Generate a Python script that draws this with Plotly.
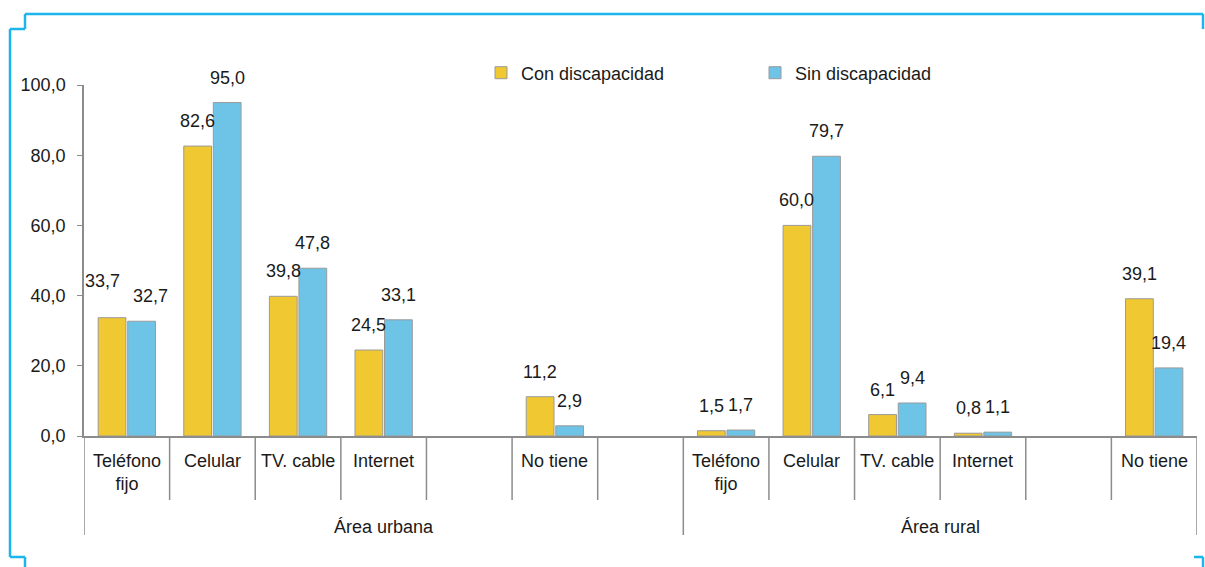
import plotly.graph_objects as go

# categories per area (empty slots are spacer columns in the original chart)
areas = ["Área urbana", "Área rural"]
cat_urbana = ["Teléfono<br>fijo", "Celular", "TV. cable", "Internet", "", "No tiene", ""]
cat_rural = ["Teléfono<br>fijo", "Celular", "TV. cable", "Internet", "", "No tiene"]

# porcentajes
con_urbana = [33.7, 82.6, 39.8, 24.5, None, 11.2, None]
sin_urbana = [32.7, 95.0, 47.8, 33.1, None, 2.9, None]
con_rural = [1.5, 60.0, 6.1, 0.8, None, 39.1]
sin_rural = [1.7, 79.7, 9.4, 1.1, None, 19.4]

series_names = ["Con discapacidad", "Sin discapacidad"]
y_ticks = [0, 20, 40, 60, 80, 100]

W, H = 1205, 567
FONT = "Liberation Sans, Arial, sans-serif"
FS = 18
YELLOW = "#F0C832"
BLUE = "#6EC4E6"
AXIS = "#8c8c8c"
CYAN = "#1CB5EC"
BARGAP = 0.31


def px(x):
    return x / W


def py(y):
    return 1 - y / H


cats = cat_urbana + cat_rural
con = con_urbana + con_rural
sin = sin_urbana + sin_rural
xs = list(range(len(cats)))

fig = go.Figure()
fig.add_trace(go.Bar(x=xs, y=con, name=series_names[0], marker_color=YELLOW,
                     marker_line=dict(color="#9a9a9a", width=1)))
fig.add_trace(go.Bar(x=xs, y=sin, name=series_names[1], marker_color=BLUE,
                     marker_line=dict(color="#9a9a9a", width=1)))

annotations = []
# data labels above each bar; a couple were nudged apart in the original
off = (1 - BARGAP) / 4
nudge = {(0, 0): (-10, 12), (1, 0): (9, 0)}
for s, vals in enumerate([con, sin]):
    for i, v in enumerate(vals):
        if v is None:
            continue
        dx, dy = nudge.get((s, i), (0, 0))
        annotations.append(dict(
            x=i + (off if s else -off), y=v, xref="x", yref="y",
            text=f"{v:.1f}".replace(".", ","), showarrow=False,
            yanchor="bottom", yshift=13 + dy, xshift=dx,
            font=dict(size=FS, color="#1a1a1a")))

# category labels
for i, c in enumerate(cats):
    if c:
        annotations.append(dict(x=i, y=py(449), xref="x", yref="paper", text=c,
                                showarrow=False, yanchor="top",
                                font=dict(size=FS, color="#1a1a1a")))

# area labels
n_urb = len(cat_urbana)
edges = [-0.5, n_urb - 0.5, len(cats) - 0.5]
for a, name in enumerate(areas):
    annotations.append(dict(x=(edges[a] + edges[a + 1]) / 2, y=py(527), xref="x", yref="paper",
                            text=name, showarrow=False, yanchor="middle",
                            font=dict(size=FS, color="#1a1a1a")))

shapes = []
for k in range(len(cats) + 1):
    b = k - 0.5
    bottom = 535 if b in edges else 500
    shapes.append(dict(type="line", xref="x", yref="paper", x0=b, x1=b,
                       y0=py(436), y1=py(bottom), line=dict(color=AXIS, width=1.5)))

# cyan frame around the chart
frame = [((25, 14), (1203, 14)), ((25, 14), (25, 29)), ((10, 29), (25, 29)),
         ((10, 29), (10, 557)), ((10, 557), (25, 557)), ((25, 557), (25, 567)),
         ((1203, 14), (1203, 29)), ((1194, 557), (1203, 557)), ((1203, 557), (1203, 567))]
for (x0, y0), (x1, y1) in frame:
    shapes.append(dict(type="line", xref="paper", yref="paper",
                       x0=px(x0), y0=py(y0), x1=px(x1), y1=py(y1),
                       line=dict(color=CYAN, width=2.5)))

fig.update_layout(
    width=W, height=H,
    margin=dict(l=0, r=0, t=0, b=0, autoexpand=False),
    paper_bgcolor="white", plot_bgcolor="white",
    font=dict(family=FONT, size=FS, color="#1a1a1a"),
    separators=",.",
    barmode="group", bargap=BARGAP, bargroupgap=0.06,
    xaxis=dict(domain=[px(84), px(1197)], range=[-0.5, len(cats) - 0.5],
               showticklabels=False, showgrid=False, zeroline=False,
               showline=True, linecolor=AXIS, linewidth=1.5, fixedrange=True),
    yaxis=dict(domain=[py(436), py(85)], range=[0, 100], tickvals=y_ticks,
               tickformat=".1f", showgrid=False, zeroline=False,
               showline=True, linecolor=AXIS, linewidth=1.5,
               ticks="outside", ticklen=5, tickcolor=AXIS, ticklabelstandoff=8),
    legend=dict(x=px(481), y=py(73), xanchor="left", yanchor="middle",
                orientation="h", entrywidth=229, entrywidthmode="pixels",
                font=dict(size=FS), bgcolor="rgba(0,0,0,0)"),
    annotations=annotations,
    shapes=shapes,
)

fig.write_html("out.html", config={"displayModeBar": False},
               post_script="document.body.style.margin='0';")
